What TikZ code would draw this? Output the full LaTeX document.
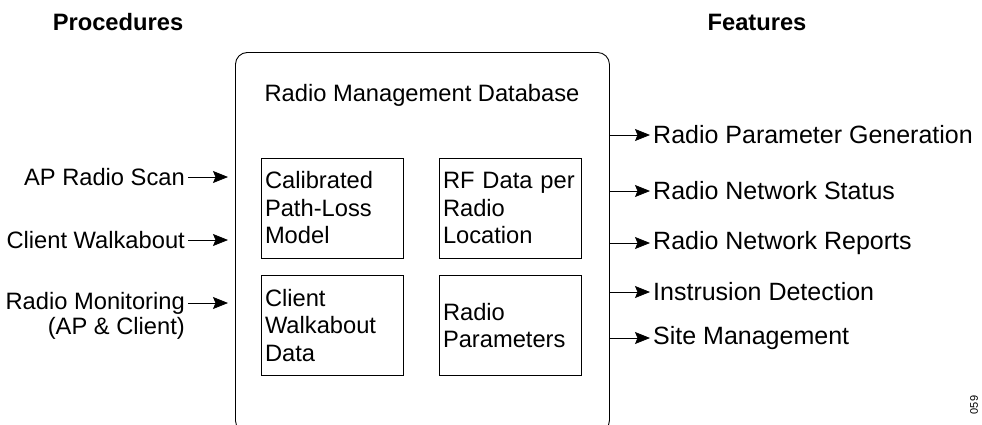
\documentclass[tikz,border=0pt]{standalone}
\usepackage{fontspec}
\setmainfont{Liberation Sans}
\usetikzlibrary{arrows.meta}

\tikzset{
    txt/.style={font=\fontsize{23.7}{27.5}\selectfont, inner sep=3pt},
    feattxt/.style={font=\fontsize{25}{28}\selectfont, inner sep=3pt},
    head/.style={font=\fontsize{23.7}{27.5}\selectfont\bfseries},
    cell/.style={draw, line width=0.8pt, txt, align=left, text width=134pt, inner xsep=4pt, inner ysep=6pt, minimum height=100pt},
    arr/.style={-{Stealth[length=15pt,width=12pt,inset=2.5pt]}, line width=0.8pt}
}

\begin{document}
\begin{tikzpicture}[x=1pt, y=-1pt]
    \useasboundingbox (0,0) rectangle (982,424);

    % headings
    \node[head] (proc) at (118,22) {Procedures};
    \node[head] (feat) at (757,22) {Features};

    % database and its parts
    \node[draw, line width=0.9pt, rounded corners=12pt, minimum width=374pt, minimum height=380pt, anchor=north west] (db) at (235,52) {};
    \node[txt] (dbtitle) at (422,95) {Radio Management Database};
    \node[cell] (model) at (332,208) {Calibrated\\Path-Loss\\Model};
    \node[cell] (rfdata) at (510,208) {RF Data per\\Radio\\Location};
    \node[cell] (walkdata) at (332,325.5) {Client\\Walkabout\\Data};
    \node[cell] (params) at (510,325.5) {Radio\\Parameters};

    % procedures
    \node[txt, anchor=east] (scan) at (188,177) {AP Radio Scan};
    \node[txt, anchor=east] (walk) at (188,240) {Client Walkabout};
    \node[txt, anchor=east] (mon) at (188,303) {Radio Monitoring};
    \node[txt, anchor=north east, inner ysep=0pt] (monsub) at (mon.south east) {(AP \& Client)};
    \foreach \n in {scan,walk,mon} {
        \draw[arr, shorten >=7pt] (\n.east) -- (\n.east -| db.west);};

    % features
    \foreach \y/\t [count=\p] in {135/Radio Parameter Generation, 191/Radio Network Status, 243/Radio Network Reports, 292/Instrusion Detection, 338/Site Management} {
        \node[feattxt, anchor=west] (f\p) at (650,\y) {\t};
        \draw[arr] (db.east |- f\p.west) -- (f\p.west);};

    \node[rotate=90, font=\fontsize{11}{13}\selectfont] (figno) at (974,405) {059};

\end{tikzpicture}
\end{document}
